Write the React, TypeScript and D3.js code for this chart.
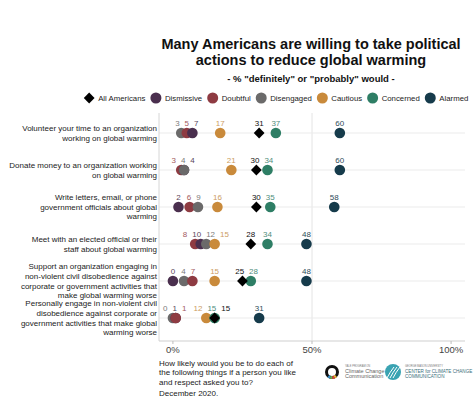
import { useEffect, useRef } from 'react';
import * as d3 from 'd3';

const width = 474;
const height = 399;

const titleLines = ['Many Americans are willing to take political', 'actions to reduce global warming'];
const subtitle = '- % "definitely" or "probably" would -';

const actionLines = [
  ['Volunteer your time to an organization', 'working on global warming'],
  ['Donate money to an organization working', 'on global warming'],
  ['Write letters, email, or phone', 'government officials about global', 'warming'],
  ['Meet with an elected official or their', 'staff about global warming'],
  ['Support an organization engaging in', 'non-violent civil disobedience against', 'corporate or government activities that', 'make global warming worse'],
  ['Personally engage in non-violent civil', 'disobedience against corporate or', 'government activities that make global', 'warming worse'],
];

const groups = ['All Americans', 'Dismissive', 'Doubtful', 'Disengaged', 'Cautious', 'Concerned', 'Alarmed'];
const groupColors = ['#000000', '#4a2f4e', '#8e3b42', '#6b6a6a', '#c98a3b', '#2e7e65', '#163b4b'];
const labelColors = ['#111111', '#5a475c', '#a35a60', '#7c7b7b', '#cc9d62', '#4f8e7c', '#2e4b59'];
// order used when two labels share the same value
const tieOrder = [5, 1, 2, 0, 3, 4, 6];

const allAmericans = [31, 30, 30, 28, 25, 15];
const dismissive = [7, 4, 2, 10, 0, 1];
const doubtful = [5, 3, 6, 8, 7, 1];
const disengaged = [3, 4, 9, 12, 4, 0];
const cautious = [17, 21, 16, 15, 15, 12];
const concerned = [37, 34, 35, 34, 28, 15];
const alarmed = [60, 60, 58, 48, 48, 31];
const series = [allAmericans, dismissive, doubtful, disengaged, cautious, concerned, alarmed];

const xTicks = [0, 50, 100];

const captionLines = [
  'How likely would you be to do each of',
  'the following things if a person you like',
  'and respect asked you to?',
];
const dateNote = 'December 2020.';

type Lbl = { x: number; t: number; w: number; g: number; v: number };

// push overlapping labels apart, keeping each cluster centred on its points
function dodge(items: Lbl[], pad: number) {
  const gap = (a: Lbl, b: Lbl) => (a.w + b.w) / 2 + pad;
  let blocks = items.map((_, i) => ({ s: i, e: i }));
  const place = (b: { s: number; e: number }) => {
    const off = [0];
    for (let k = b.s + 1; k <= b.e; k++) off.push(off[off.length - 1] + gap(items[k - 1], items[k]));
    const shift = d3.mean(d3.range(b.s, b.e + 1), (k) => items[k].t - off[k - b.s]) as number;
    for (let k = b.s; k <= b.e; k++) items[k].x = shift + off[k - b.s];
  };
  blocks.forEach(place);
  let merged = true;
  while (merged) {
    merged = false;
    for (let i = 0; i < blocks.length - 1; i++) {
      const a = items[blocks[i].e], b = items[blocks[i + 1].s];
      if (a.x + gap(a, b) > b.x + 0.01) {
        blocks[i] = { s: blocks[i].s, e: blocks[i + 1].e };
        blocks.splice(i + 1, 1);
        place(blocks[i]);
        merged = true;
        break;
      }
    }
  }
}

export default function App() {
  const ref = useRef<SVGSVGElement>(null);

  useEffect(() => {
    const svg = d3.select(ref.current);
    svg.selectAll('*').remove();
    svg.attr('font-family', "'Liberation Sans', Arial, sans-serif");

    const x = d3.scaleLinear().domain([-5, 105]).range([159, 465]);
    const y = d3.scalePoint<number>().domain(d3.range(actionLines.length)).range([133, 318]);
    const panelTop = 113;
    const panelBottom = 341;
    const [x0, x1] = x.range();

    // Title
    const title = svg.append('text')
      .attr('text-anchor', 'middle').attr('font-weight', 'bold')
      .attr('font-size', 14.5).attr('fill', '#111');
    titleLines.forEach((l, i) => title.append('tspan').attr('x', 311).attr('y', 48.5 + i * 16).text(l));
    svg.append('text')
      .attr('x', 311).attr('y', 81.5).attr('text-anchor', 'middle')
      .attr('font-weight', 'bold').attr('font-size', 9.5).attr('fill', '#111')
      .text(subtitle);

    // Legend
    const legend = svg.append('g');
    const ly = 98;
    let cx = 0;
    groups.forEach((g, i) => {
      const item = legend.append('g');
      if (i === 0) {
        item.append('path')
          .attr('d', d3.symbol(d3.symbolSquare, 58)())
          .attr('transform', `translate(${cx},${ly}) rotate(45)`)
          .attr('fill', groupColors[i]);
      } else {
        item.append('circle').attr('cx', cx).attr('cy', ly).attr('r', 5.5).attr('fill', groupColors[i]);
      }
      const t = item.append('text')
        .attr('x', cx + 9).attr('y', ly + 2.8)
        .attr('font-size', 7.8).attr('fill', '#222').text(g);
      const w = (t.node() as SVGTextElement).getComputedTextLength();
      cx += 9 + w + 10.5;
    });
    const legendW = cx - 10.5 + 5.5;
    legend.attr('transform', `translate(${276 - legendW / 2 + 5.5},0)`);

    // Panel grid
    svg.append('line')
      .attr('x1', x(50)).attr('x2', x(50)).attr('y1', panelTop).attr('y2', panelBottom)
      .attr('stroke', '#e4e4e4').attr('stroke-width', 1);
    svg.append('g').selectAll('line').data(y.domain()).join('line')
      .attr('x1', x0).attr('x2', x1)
      .attr('y1', (d) => y(d)!).attr('y2', (d) => y(d)!)
      .attr('stroke', '#ebebeb').attr('stroke-width', 1);
    svg.append('line')
      .attr('x1', x0).attr('x2', x0).attr('y1', panelTop).attr('y2', panelBottom)
      .attr('stroke', '#d6d6d6');
    svg.append('line')
      .attr('x1', x0).attr('x2', x1).attr('y1', panelBottom).attr('y2', panelBottom)
      .attr('stroke', '#cfcfcf');

    // x axis ticks
    const ax = svg.append('g');
    ax.selectAll('line').data(xTicks).join('line')
      .attr('x1', (d) => x(d)).attr('x2', (d) => x(d))
      .attr('y1', panelBottom).attr('y2', panelBottom + 3)
      .attr('stroke', '#bdbdbd');
    ax.selectAll('text').data(xTicks).join('text')
      .attr('x', (d) => x(d)).attr('y', panelBottom + 11.5)
      .attr('text-anchor', 'middle').attr('font-size', 9.5).attr('fill', '#444')
      .text((d) => `${d}%`);

    // Row labels
    actionLines.forEach((lines, r) => {
      const t = svg.append('text')
        .attr('text-anchor', 'end').attr('font-size', 8).attr('fill', '#222');
      const lh = 9.6;
      const start = y(r)! - ((lines.length - 1) * lh) / 2 + 2.8;
      lines.forEach((l, i) => t.append('tspan').attr('x', 157).attr('y', start + i * lh).text(l));
    });

    // Marks and value labels
    const marks = svg.append('g');
    const labels = svg.append('g');
    actionLines.forEach((_, r) => {
      const cy = y(r)!;
      const idx = d3.range(1, groups.length).sort((a, b) => series[a][r] - series[b][r] || a - b);
      idx.forEach((gi) => {
        marks.append('circle')
          .attr('cx', x(series[gi][r])).attr('cy', cy).attr('r', 5.3)
          .attr('fill', groupColors[gi]);
      });
      marks.append('path')
        .attr('d', d3.symbol(d3.symbolSquare, 58)())
        .attr('transform', `translate(${x(series[0][r])},${cy}) rotate(45)`)
        .attr('fill', groupColors[0]);

      const items: Lbl[] = d3.range(groups.length)
        .map((gi) => {
          const v = series[gi][r];
          return { x: x(v), t: x(v), w: String(v).length * 4.45, g: gi, v };
        })
        .sort((a, b) => a.v - b.v || tieOrder[a.g] - tieOrder[b.g]);
      dodge(items, 5);
      labels.selectAll(null).data(items).enter().append('text')
        .attr('x', (d) => d.x).attr('y', cy - 7)
        .attr('text-anchor', 'middle').attr('font-size', 8)
        .attr('fill', (d) => labelColors[d.g])
        .text((d) => d.v);
    });

    // Caption
    const cap = svg.append('text').attr('font-size', 8).attr('fill', '#222');
    captionLines.forEach((l, i) => cap.append('tspan').attr('x', 159).attr('y', 365.5 + i * 9.5).text(l));
    svg.append('text').attr('x', 159).attr('y', 395.5).attr('font-size', 8).attr('fill', '#222').text(dateNote);

    // Logos
    const yale = svg.append('g').attr('transform', 'translate(332,372)');
    yale.append('circle').attr('r', 5.5).attr('fill', 'none').attr('stroke', '#111').attr('stroke-width', 3);
    const arc = d3.arc<any>().innerRadius(4).outerRadius(7);
    const ring = ['#e8b63a', '#d9463b', '#6aa84f', '#3b8fc8'];
    ring.forEach((c, i) => {
      yale.append('path')
        .attr('d', arc({ startAngle: Math.PI * (0.75 + i * 0.12), endAngle: Math.PI * (0.87 + i * 0.12) }) as string)
        .attr('fill', c);
    });
    yale.append('text').attr('x', 13).attr('y', -5).attr('font-size', 2.6).attr('fill', '#777').text('YALE PROGRAM ON');
    yale.append('text').attr('x', 13).attr('y', 0.5).attr('font-size', 5.5).attr('fill', '#666').text('Climate Change');
    yale.append('text').attr('x', 13).attr('y', 6.2).attr('font-size', 5.5).attr('fill', '#666').text('Communication');

    const gmu = svg.append('g').attr('transform', 'translate(393,372)');
    gmu.append('circle').attr('r', 8).attr('fill', '#3aa3b2');
    [-4, -1, 2].forEach((o) => {
      gmu.append('path')
        .attr('d', `M${o - 2},6 Q${o + 1},0 ${o + 5},-5`)
        .attr('fill', 'none').attr('stroke', '#fff').attr('stroke-width', 1);
    });
    gmu.append('text').attr('x', 12).attr('y', -5).attr('font-size', 2.6).attr('fill', '#777').text('GEORGE MASON UNIVERSITY');
    gmu.append('text').attr('x', 12).attr('y', 0.5).attr('font-size', 4.6).attr('fill', '#3b6f7c').text('CENTER for CLIMATE CHANGE');
    gmu.append('text').attr('x', 12).attr('y', 6).attr('font-size', 4.6).attr('fill', '#3b6f7c').text('COMMUNICATION');
  }, []);

  return (
    <svg
      ref={ref}
      width={width}
      height={height}
      style={{ position: 'absolute', left: 0, top: 0, background: '#fff' }}
    />
  );
}
